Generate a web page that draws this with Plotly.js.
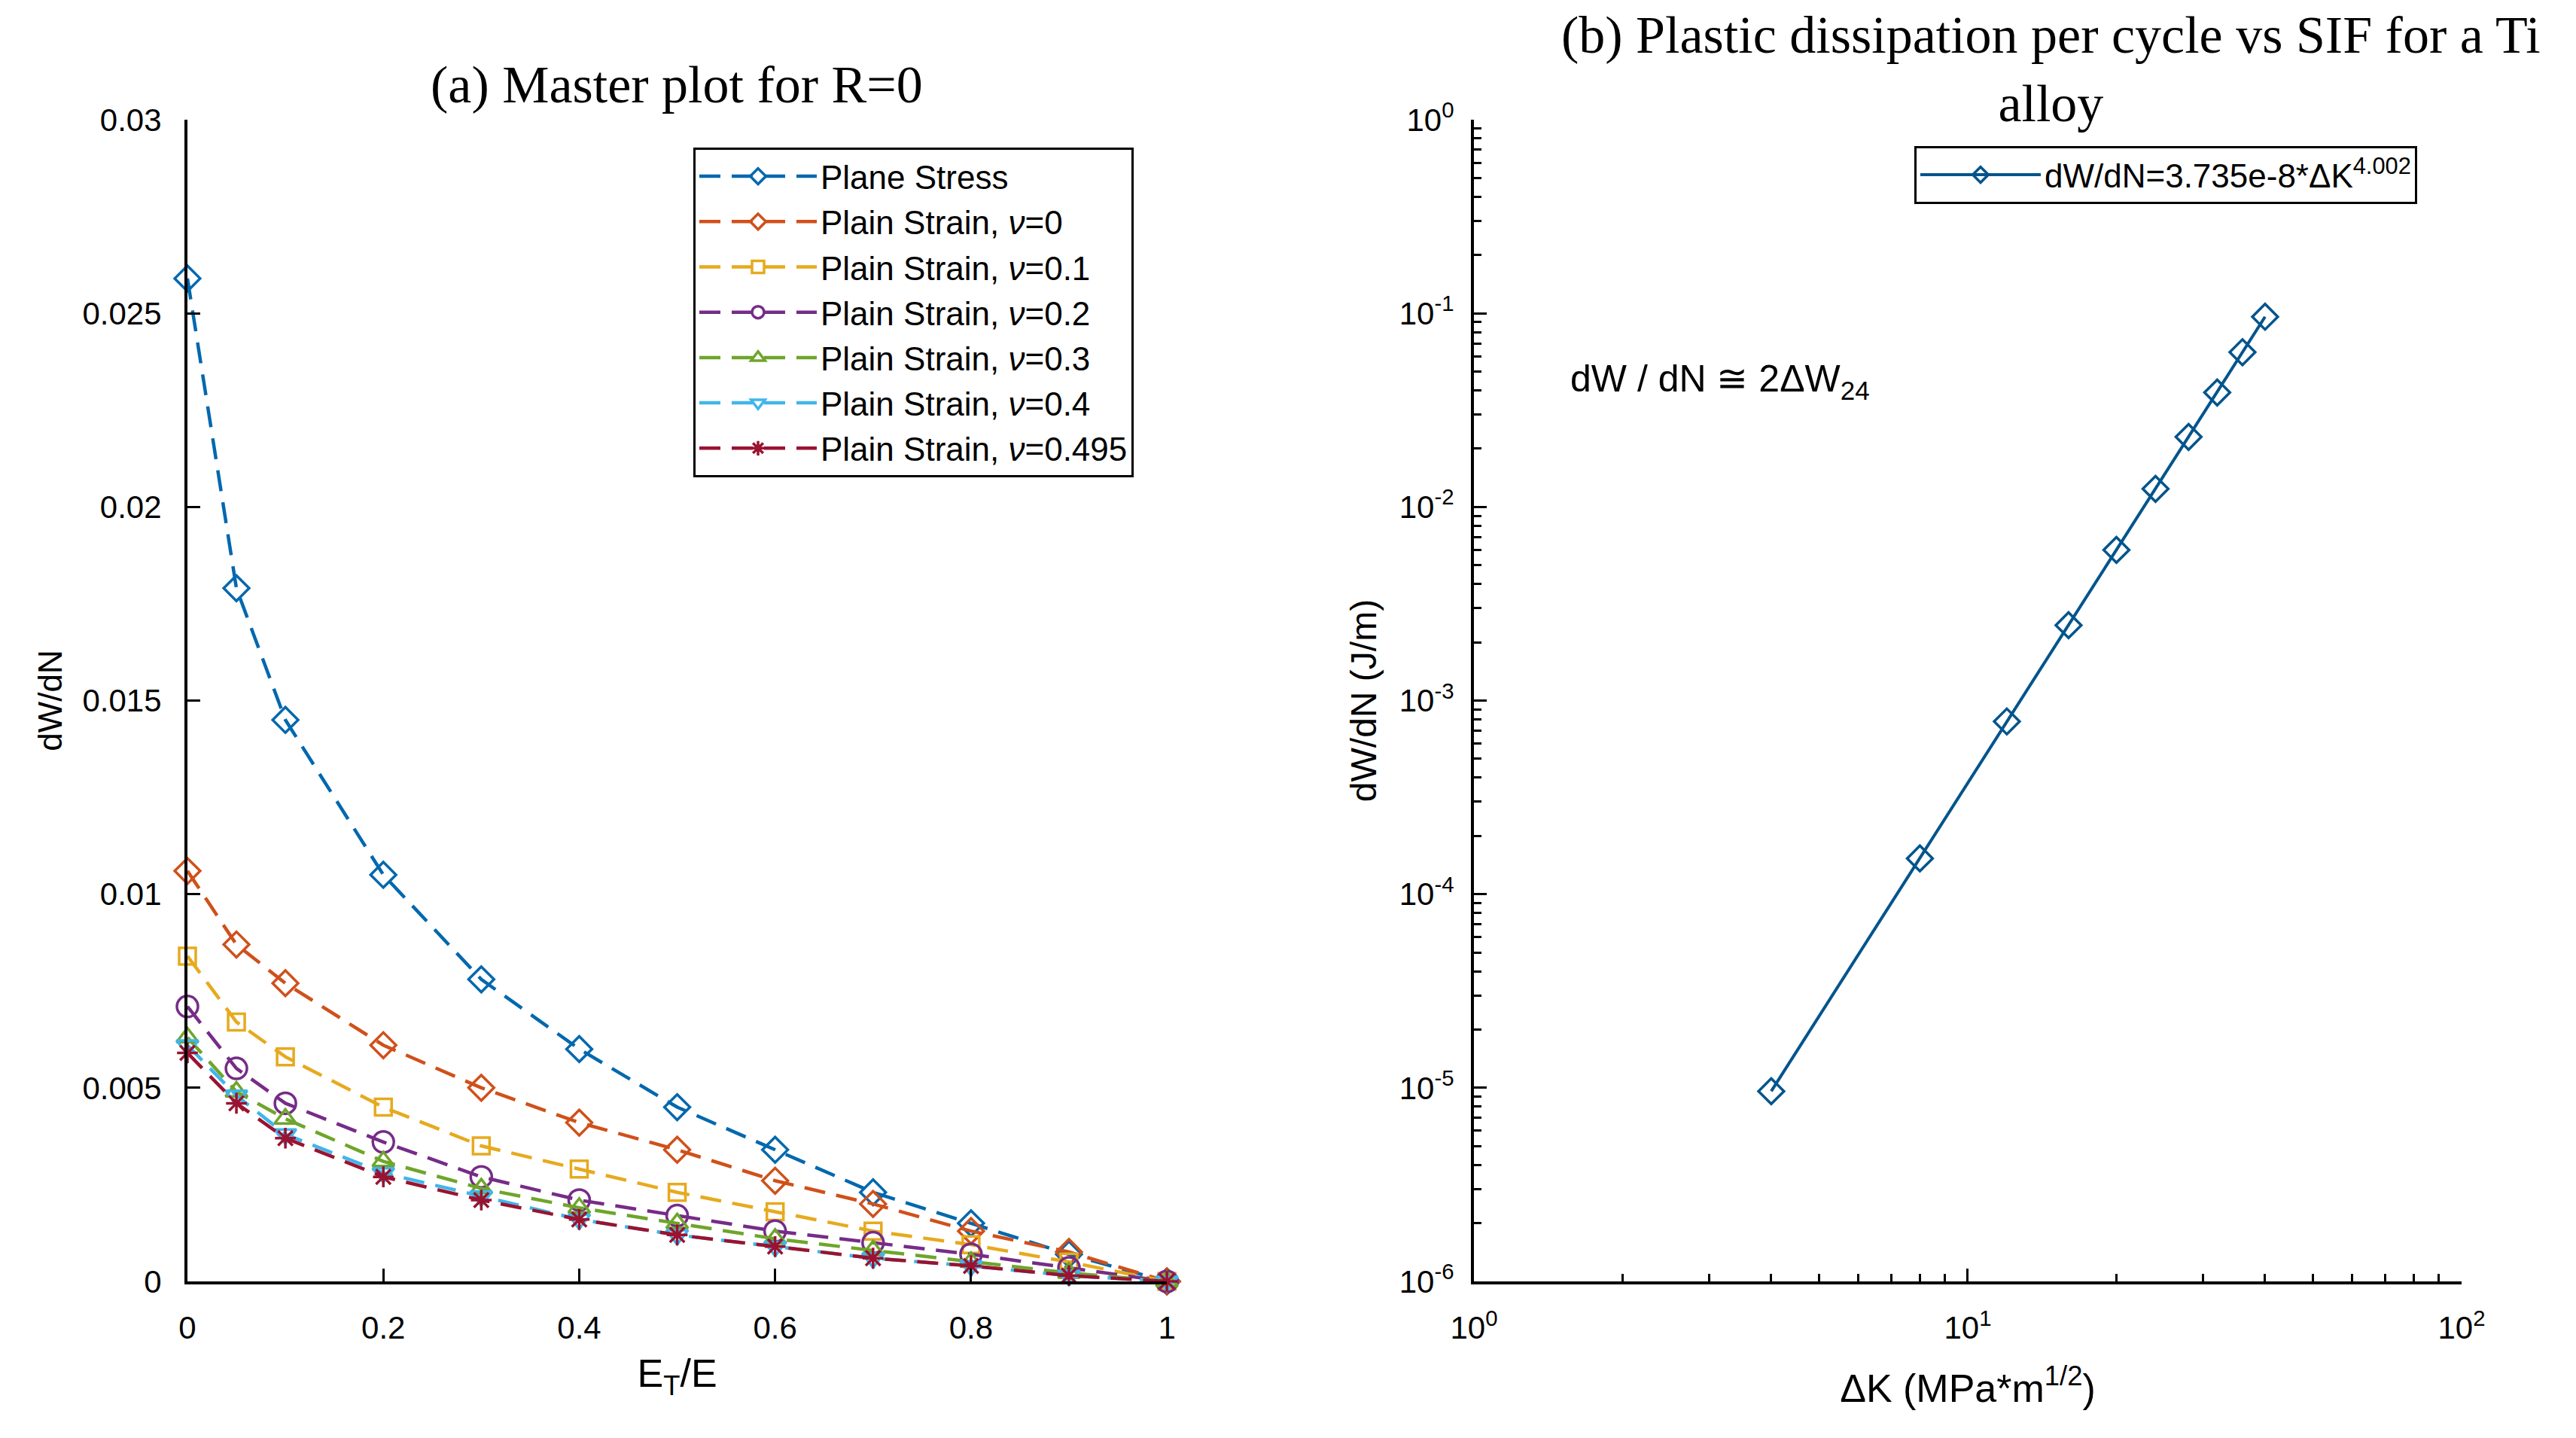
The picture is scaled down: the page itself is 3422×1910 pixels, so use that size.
<!DOCTYPE html>
<html>
<head>
<meta charset="utf-8">
<script src="https://cdn.plot.ly/plotly-3.0.1.min.js"></script>
<style>
html,body{margin:0;padding:0;background:#fff;}
#chart{width:3422px;height:1910px;}
</style>
</head>
<body>
<div id="chart"></div>
<script>
// ---------- Data: panel (a) ----------
const ET_E = [0, 0.05, 0.1, 0.2, 0.3, 0.4, 0.5, 0.6, 0.7, 0.8, 0.9, 1.0];
const planeStress = [0.0259, 0.0179, 0.0145, 0.0105, 0.0078, 0.0060, 0.0045, 0.0034, 0.0023, 0.0015, 0.0007, 0];
const strainNu0    = [0.0106, 0.0087, 0.0077, 0.0061, 0.0050, 0.0041, 0.0034, 0.0026, 0.0020, 0.0013, 0.00076, 0];
const strainNu01   = [0.0084, 0.0067, 0.0058, 0.0045, 0.0035, 0.0029, 0.0023, 0.0018, 0.0013, 0.00095, 0.0005, 0];
const strainNu02   = [0.0071, 0.0055, 0.0046, 0.0036, 0.0027, 0.0021, 0.0017, 0.0013, 0.0010, 0.0007, 0.00035, 0];
const strainNu03   = [0.0063, 0.0049, 0.0042, 0.0031, 0.0024, 0.0019, 0.0015, 0.0011, 0.0008, 0.0005, 0.00022, 0];
const strainNu04   = [0.0061, 0.0048, 0.0038, 0.0028, 0.0022, 0.0016, 0.0012, 0.0009, 0.0006, 0.0004, 0.00015, 0];
const strainNu0495 = [0.0059, 0.0046, 0.0037, 0.0027, 0.0021, 0.0016, 0.0012, 0.0009, 0.0006, 0.0004, 0.00015, 0];

const seriesNames = [
  'Plane Stress',
  'Plain Strain, <i>ν</i>=0',
  'Plain Strain, <i>ν</i>=0.1',
  'Plain Strain, <i>ν</i>=0.2',
  'Plain Strain, <i>ν</i>=0.3',
  'Plain Strain, <i>ν</i>=0.4',
  'Plain Strain, <i>ν</i>=0.495'
];

// ---------- Data: panel (b) ----------
const deltaK = [4, 8, 12, 16, 20, 24, 28, 32, 36, 40];
const dWdN   = [9.6e-6, 1.53e-4, 7.8e-4, 2.45e-3, 6.0e-3, 1.24e-2, 2.3e-2, 3.9e-2, 6.3e-2, 9.6e-2];
const fitLabel = 'dW/dN=3.735e-8*ΔK<sup>4.002</sup>';

// ---------- Tick labels ----------
const logYTickVals = [1e-6, 1e-5, 1e-4, 1e-3, 1e-2, 1e-1, 1];
const logYTickText = ['10<sup>-6</sup>','10<sup>-5</sup>','10<sup>-4</sup>','10<sup>-3</sup>','10<sup>-2</sup>','10<sup>-1</sup>','10<sup>0</sup>'];
const logXTickVals = [1, 10, 100];
const logXTickText = ['10<sup>0</sup>','10<sup>1</sup>','10<sup>2</sup>'];

// ---------- Styles ----------
const colors  = ['#0068AE','#D0501A','#E6AA1E','#762C87','#6FA52B','#3FB6EA','#9A1330'];
const symbols = ['diamond-open','diamond-open','square-open','circle-open','triangle-up-open','triangle-down-open','asterisk-open'];
const sizes   = [26, 26, 22, 28, 25, 25, 23];
const seriesY = [planeStress, strainNu0, strainNu01, strainNu02, strainNu03, strainNu04, strainNu0495];

const SANS = 'Liberation Sans, Arial, sans-serif';
const SERIF = 'Liberation Serif, Times New Roman, serif';

// plot area geometry (px) used to convert positions to paper fractions
const PL = 249, PR = 152, PT = 159, PB = 208, W = 3422, H = 1910;
const px = v => (v - PL) / (W - PL - PR);
const py = v => (H - PB - v) / (H - PT - PB);

const traces = seriesY.map((y, i) => ({
  type: 'scatter', mode: 'lines+markers',
  x: ET_E, y: y, name: seriesNames[i],
  xaxis: 'x', yaxis: 'y', legend: 'legend',
  cliponaxis: false,
  line: {color: colors[i], width: 4.5, dash: '28px,15px'},
  marker: {symbol: symbols[i], size: sizes[i], color: colors[i], line: {color: colors[i], width: 3.5}}
}));

traces.push({
  type: 'scatter', mode: 'lines+markers',
  x: deltaK, y: dWdN, name: fitLabel,
  xaxis: 'x2', yaxis: 'y2', legend: 'legend2',
  cliponaxis: false,
  line: {color: '#00548C', width: 4},
  marker: {symbol: 'diamond-open', size: 26, color: '#00548C', line: {color: '#00548C', width: 3.5}}
});

// minor tick positions for log axes
const minorY = [];
for (let e = -6; e < 0; e++) for (let m = 2; m <= 9; m++) minorY.push(m * Math.pow(10, e));
const minorX = [];
for (let e = 0; e < 2; e++) for (let m = 2; m <= 9; m++) minorX.push(m * Math.pow(10, e));

const axisCommon = {
  showline: true, linecolor: '#000', linewidth: 4, mirror: false,
  showgrid: false, zeroline: false,
  ticks: 'inside', ticklen: 17, tickwidth: 3, tickcolor: '#000',
  tickfont: {family: SANS, size: 42, color: '#000'}
};

const layout = {
  width: W, height: H,
  paper_bgcolor: '#fff', plot_bgcolor: '#fff',
  margin: {l: PL, r: PR, t: PT, b: PB},
  showlegend: true,
  xaxis: Object.assign({}, axisCommon, {
    domain: [0, 0.4307], range: [0, 1], dtick: 0.2, tick0: 0,
    ticklabelstandoff: 22,
    title: {text: 'E<sub>T</sub>/E', font: {family: SANS, size: 52, color: '#000'}, standoff: 20}
  }),
  yaxis: Object.assign({}, axisCommon, {
    domain: [0, 1], range: [0, 0.03], dtick: 0.005, tick0: 0,
    ticklabelstandoff: 22,
    title: {text: 'dW/dN', font: {family: SANS, size: 44, color: '#000'}, standoff: 14}
  }),
  xaxis2: Object.assign({}, axisCommon, {
    domain: [0.5657, 1], type: 'log', range: [0, 2], anchor: 'y2',
    tickmode: 'array', tickvals: logXTickVals, ticktext: logXTickText,
    ticklabelstandoff: 22,
    minor: {tickmode: 'array', tickvals: minorX, ticks: 'inside', ticklen: 10, tickwidth: 3, tickcolor: '#000', showgrid: false},
    title: {text: 'ΔK (MPa*m<sup>1/2</sup>)', font: {family: SANS, size: 52, color: '#000'}, standoff: 40}
  }),
  yaxis2: Object.assign({}, axisCommon, {
    domain: [0, 1], type: 'log', range: [-6, 0], anchor: 'x2',
    tickmode: 'array', tickvals: logYTickVals, ticktext: logYTickText,
    ticklabelstandoff: 14,
    minor: {tickmode: 'array', tickvals: minorY, ticks: 'inside', ticklen: 10, tickwidth: 3, tickcolor: '#000', showgrid: false},
    title: {text: 'dW/dN (J/m)', font: {family: SANS, size: 48, color: '#000'}, standoff: 16}
  }),
  legend: {
    x: px(921), y: py(196), xanchor: 'left', yanchor: 'top', xref: 'paper', yref: 'paper',
    bgcolor: '#fff', bordercolor: '#000', borderwidth: 3,
    font: {family: SANS, size: 44, color: '#000'},
    itemwidth: 156, tracegroupgap: 0, itemclick: false
  },
  legend2: {
    x: px(2543), y: py(194), xanchor: 'left', yanchor: 'top', xref: 'paper', yref: 'paper',
    bgcolor: '#fff', bordercolor: '#000', borderwidth: 3,
    font: {family: SANS, size: 44, color: '#000'},
    itemwidth: 160, itemclick: false
  },
  annotations: [
    {text: '(a) Master plot for R=0', xref: 'paper', yref: 'paper',
     x: px(899), y: py(113), xanchor: 'center', yanchor: 'middle', showarrow: false,
     font: {family: SERIF, size: 70, color: '#000'}},
    {text: '(b) Plastic dissipation per cycle vs SIF for a Ti<br>alloy', xref: 'paper', yref: 'paper',
     x: px(2724), y: py(92), xanchor: 'center', yanchor: 'middle', showarrow: false, align: 'center',
     font: {family: SERIF, size: 70, color: '#000'}},
    {text: 'dW / dN ≅ 2ΔW<sub>24</sub>', xref: 'paper', yref: 'paper',
     x: px(2084), y: py(506), xanchor: 'left', yanchor: 'middle', showarrow: false,
     font: {family: SANS, size: 50, color: '#000'}}
  ]
};

Plotly.newPlot('chart', traces, layout, {staticPlot: true, displayModeBar: false});
</script>
</body>
</html>
